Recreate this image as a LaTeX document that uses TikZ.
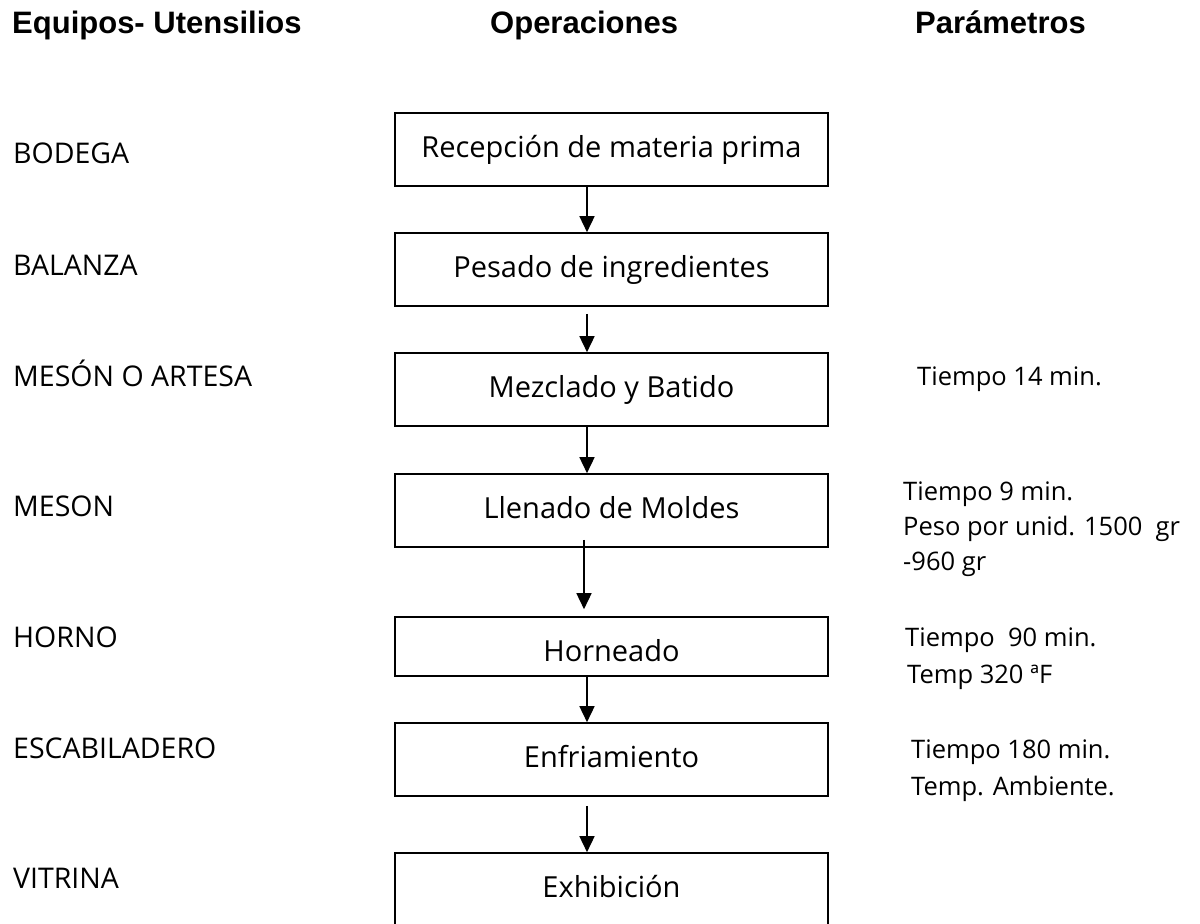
\documentclass[tikz,border=0pt]{standalone}
\usepackage{fontspec}
\setmainfont{Open Sans}
\newfontfamily\headfont{Liberation Sans}
\usetikzlibrary{arrows.meta}

\begin{document}
\begin{tikzpicture}[x=1bp,y=-1bp,
  head/.style={inner sep=0pt, anchor=base west,
    font=\headfont\bfseries\fontsize{31bp}{37bp}\selectfont},
  opbox/.style={draw, line width=1.6bp, rectangle, inner sep=0pt,
    minimum width=433bp, text height=44bp, text depth=29bp, anchor=base,
    font=\fontsize{29bp}{35bp}\selectfont},
  equip/.style={inner sep=0pt, anchor=base west,
    font=\fontsize{28.5bp}{34bp}\selectfont},
  param/.style={inner sep=0pt, anchor=base west,
    font=\fontsize{25.5bp}{31bp}\selectfont},
  flow/.style={line width=1.5bp, -{Triangle[width=15bp,length=16bp]}}
]
\useasboundingbox (0,0) rectangle (1200,924);

% column headings
\node[head] (h1) at (12,33) {Equipos- Utensilios};
\node[head] (h2) at (490,33) {Operaciones};
\node[head] (h3) at (915,33) {Parámetros};

% process steps
\node[opbox] (b1) at (611.5,157) {Recepción de materia prima};
\node[opbox] (b2) at (611.5,277) {Pesado de ingredientes};
\node[opbox] (b3) at (611.5,397) {Mezclado y Batido};
\node[opbox] (b4) at (611.5,518) {Llenado de Moldes};
\node[opbox, text depth=15bp] (b5) at (611.5,661) {Horneado};
\node[opbox] (b6) at (611.5,767) {Enfriamiento};
\node[opbox] (b7) at (611.5,897) {Exhibición};

% connectors
\draw[flow] ([xshift=-24.5bp]b1.south) -- ([xshift=-24.5bp]b2.north);
\draw[flow] ([xshift=-24.5bp,yshift=-7bp]b2.south) -- ([xshift=-24.5bp]b3.north);
\draw[flow] ([xshift=-24.5bp]b3.south) -- ([xshift=-24.5bp]b4.north);
\draw[flow] ([xshift=-27.5bp,yshift=8bp]b4.south) -- ([xshift=-27.5bp,yshift=7bp]b5.north);
\draw[flow] ([xshift=-24.5bp]b5.south) -- ([xshift=-24.5bp]b6.north);
\draw[flow] ([xshift=-24.5bp,yshift=-9bp]b6.south) -- ([xshift=-24.5bp]b7.north);

% equipment
\node[equip] (e1) at (13,163) {BODEGA};
\node[equip] (e2) at (13,275) {BALANZA};
\node[equip] (e3) at (13,386) {MESÓN O ARTESA};
\node[equip] (e4) at (13,516) {MESON};
\node[equip] (e5) at (13,647) {HORNO};
\node[equip] (e6) at (13,758) {ESCABILADERO};
\node[equip] (e7) at (13,888) {VITRINA};

% parameters
\node[param] (p3) at (917,385) {Tiempo 14 min.};
\node[param] (p4a) at (903,500) {Tiempo 9 min.};
\node[param] (p4b) at (903,535) {Peso por unid. 1500\ \ gr};
\node[param] (p4c) at (903,570) {-960 gr};
\node[param] (p5a) at (905,646) {Tiempo\ \ 90 min.};
\node[param] (p5b) at (907,683) {Temp 320 ªF};
\node[param] (p6a) at (911,758) {Tiempo 180 min.};
\node[param] (p6b) at (911,795) {Temp. Ambiente.};
\end{tikzpicture}
\end{document}
